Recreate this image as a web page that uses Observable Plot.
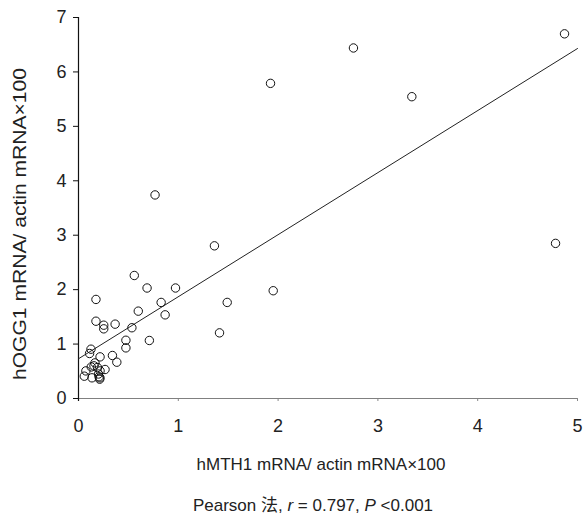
<!DOCTYPE html>
<html><head><meta charset="utf-8">
<script src="https://cdn.jsdelivr.net/npm/d3@7"></script>
<script src="https://cdn.jsdelivr.net/npm/@observablehq/plot@0.6"></script>
<style>
body{margin:0;background:#fff;font-family:"Liberation Sans","Noto Sans CJK SC",sans-serif;}
#wrap{position:relative;width:586px;height:517px;overflow:hidden;}
#cap{position:absolute;left:0;top:494px;width:626px;text-align:center;font-size:17px;line-height:20px;color:#222;}
</style></head><body>
<div id="wrap"><div id="chart"></div><div id="cap">Pearson <span style="font-family:'Noto Sans CJK SC'">法</span>, <i>r</i> = 0.797, <i>P</i> &lt;0.001</div></div>
<script>
// hMTH1 mRNA / actin mRNA ×100 (x) and hOGG1 mRNA / actin mRNA ×100 (y)
const mth1 = [4.87, 2.755, 1.924, 3.34, 0.767, 1.362, 4.78, 0.559, 0.687, 0.972, 1.951, 0.175, 0.828, 1.49, 0.599, 0.868, 0.175, 0.367, 0.253, 0.253, 0.535, 1.413, 0.475, 0.71, 0.475, 0.125, 0.111, 0.216, 0.34, 0.384, 0.165, 0.155, 0.128, 0.266, 0.216, 0.074, 0.058, 0.135, 0.206, 0.212, 0.19, 0.20, 0.215];
const ogg1 = [6.70, 6.44, 5.79, 5.545, 3.74, 2.805, 2.85, 2.26, 2.03, 2.03, 1.98, 1.82, 1.765, 1.765, 1.605, 1.537, 1.42, 1.366, 1.347, 1.28, 1.30, 1.206, 1.07, 1.066, 0.93, 0.906, 0.827, 0.765, 0.79, 0.667, 0.654, 0.60, 0.58, 0.533, 0.507, 0.507, 0.41, 0.38, 0.40, 0.355, 0.57, 0.45, 0.38];
const xTicks = [0, 1, 2, 3, 4, 5];
const yTicks = [0, 1, 2, 3, 4, 5, 6, 7];
const fitX = [0, 5];
const fitY = [0.73, 6.43];
const xLabel = "hMTH1 mRNA/ actin mRNA×100";
const yLabel = "hOGG1 mRNA/ actin mRNA×100";

const points = mth1.map((x, i) => ({x, y: ogg1[i]}));
const fit = fitX.map((x, i) => ({x, y: fitY[i]}));

const plot = Plot.plot({
  width: 586, height: 494,
  marginLeft: 78, marginRight: 9, marginTop: 17, marginBottom: 96,
  x: {domain: [0, 5]},
  y: {domain: [0, 7]},
  style: {fontFamily: "'Liberation Sans', sans-serif", fontSize: "18px", color: "#222", background: "#fff", overflow: "visible"},
  marks: [
    Plot.axisY({ticks: yTicks, tickFormat: "d", tickSize: 5, tickPadding: 7, label: null, fontSize: 18, stroke: "#111"}),
    Plot.axisX({ticks: xTicks, tickFormat: "d", tickSize: 3, tickPadding: 18, label: null, fontSize: 18, stroke: "#888"}),
    Plot.ruleY([0], {stroke: "#808080", strokeWidth: 1.2}),
    Plot.ruleX([0], {stroke: "#111", strokeWidth: 1.2, insetBottom: -3}),
    Plot.line(fit, {x: "x", y: "y", stroke: "#222", strokeWidth: 1}),
    Plot.dot(points, {x: "x", y: "y", r: 4.2, stroke: "#111", fill: "none", strokeWidth: 1}),
    Plot.text([xLabel], {text: d => d, frameAnchor: "bottom", dy: 66, dx: -7, fontSize: 17, lineAnchor: "middle"}),
    Plot.text([yLabel], {text: d => d, frameAnchor: "left", dx: -58, dy: 16, rotate: -90, fontSize: 18, textAnchor: "middle", lineAnchor: "middle", className: "ylab"})
  ]
});
document.getElementById("chart").appendChild(plot);
d3.select(plot).selectAll(".ylab text").attr("textLength", 312).attr("lengthAdjust", "spacingAndGlyphs");
</script>
</body></html>
